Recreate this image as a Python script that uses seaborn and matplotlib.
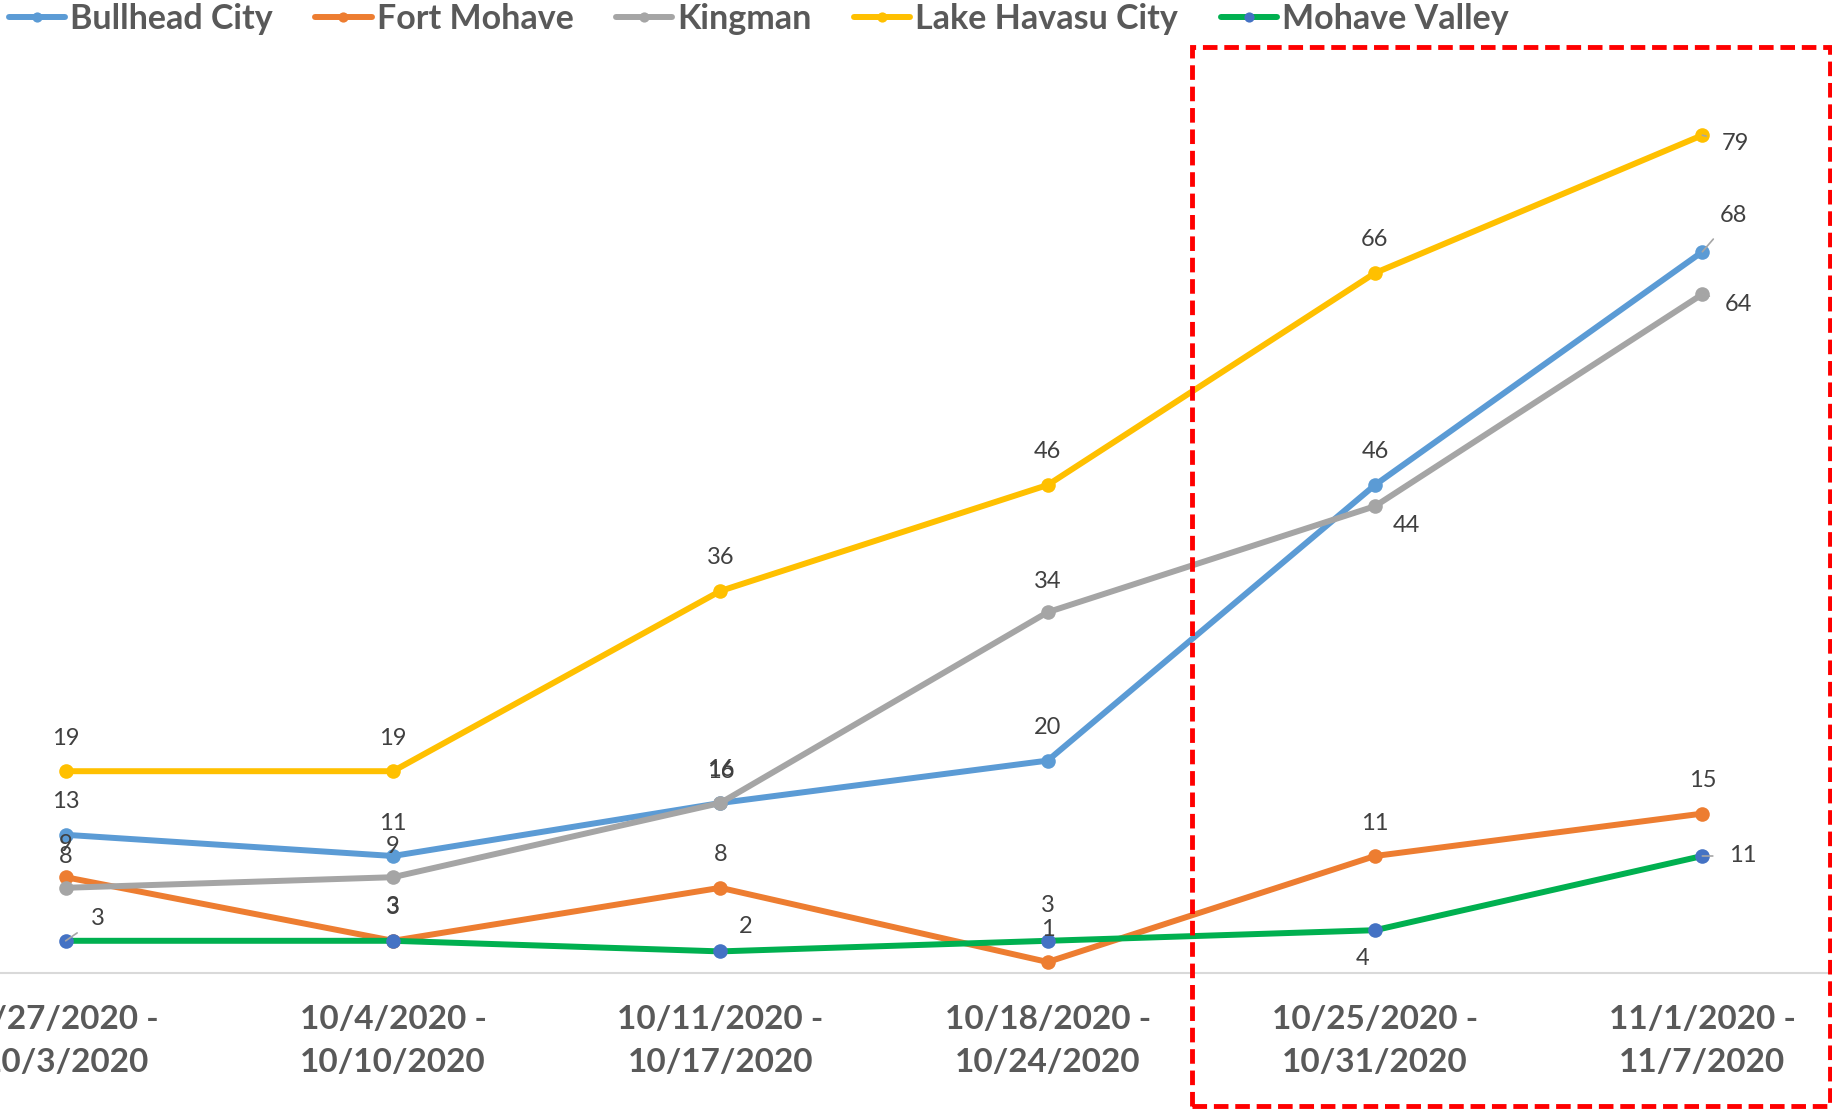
import matplotlib
matplotlib.use('Agg')
import matplotlib.pyplot as plt
import seaborn as sns
import pandas as pd
from matplotlib.patches import Rectangle

sns.set_style('white')
plt.rcParams['font.family'] = ['Lato', 'DejaVu Sans']

# weekly values
weeks = ['9/27/2020 -\n10/3/2020', '10/4/2020 -\n10/10/2020', '10/11/2020 -\n10/17/2020',
         '10/18/2020 -\n10/24/2020', '10/25/2020 -\n10/31/2020', '11/1/2020 -\n11/7/2020']
bullhead_city = [13, 11, 16, 20, 46, 68]
fort_mohave = [9, 3, 8, 1, 11, 15]
kingman = [8, 9, 16, 34, 44, 64]
lake_havasu_city = [19, 19, 36, 46, 66, 79]
mohave_valley = [3, 3, 2, 3, 4, 11]

series = [
    ('Bullhead City', bullhead_city, '#5B9BD5', '#5B9BD5'),
    ('Fort Mohave', fort_mohave, '#ED7D31', '#ED7D31'),
    ('Kingman', kingman, '#A5A5A5', '#A5A5A5'),
    ('Lake Havasu City', lake_havasu_city, '#FFC000', '#FFC000'),
    ('Mohave Valley', mohave_valley, '#00B050', '#4472C4'),
]

# label offsets in pixels (dx, dy), leader line flag
up = (0, 33, False)
label_pos = {
    'Bullhead City': [up, up, up, up, up, (31, 36, True)],
    'Fort Mohave': [up, up, up, up, up, up],
    'Kingman': [(0, 31, False), (0, 31, False), (0, 31, False), (0, 31, False),
                (31, -19, False), (36, -10, True)],
    'Lake Havasu City': [up, up, up, up, up, (33, -8, True)],
    'Mohave Valley': [(32, 22, True), (0, 34, False), (25, 25, False), (0, 35, False),
                      (-12, -28, False), (40, 0, True)],
}

W, H = 1833, 1112
fig = plt.figure(figsize=(W / 100, H / 100), dpi=100)
# plot area runs past the left/right edges like the cropped original
ax = fig.add_axes([-98 / W, 139.4 / H, 1964 / W, 954 / H])

x = list(range(len(weeks)))
for name, vals, color, mcolor in series:
    df = pd.DataFrame({'week': x, 'value': vals})
    sns.lineplot(data=df, x='week', y='value', ax=ax, color=color, linewidth=4.3,
                 marker='o', markersize=10.5, markerfacecolor=mcolor,
                 markeredgewidth=0, label=name)
    for xi, v, (dx, dy, lead) in zip(x, vals, label_pos[name]):
        arrow = dict(arrowstyle='-', color='#A6A6A6', lw=1.2, shrinkA=9, shrinkB=0) if lead else None
        ax.annotate(str(v), xy=(xi, v), xytext=(dx, dy), textcoords='offset pixels',
                    ha='center', va='center', fontsize=17, color='#404040',
                    arrowprops=arrow)

ax.set_xlim(-0.5, 5.5)
ax.set_ylim(0, 90)
ax.set_xticks(x)
ax.set_xticklabels(weeks, fontsize=24, fontweight='bold', color='#595959', linespacing=1.6)
ax.tick_params(axis='x', length=0, pad=23)
ax.set_yticks([])
ax.set_xlabel('')
ax.set_ylabel('')
for s in ['top', 'left', 'right']:
    ax.spines[s].set_visible(False)
ax.spines['bottom'].set_color('#D9D9D9')
ax.spines['bottom'].set_linewidth(1.5)

handles, labels = ax.get_legend_handles_labels()
ax.get_legend().remove()
leg = fig.legend(handles, labels, loc='center left', bbox_to_anchor=(9 / W, 1 - 19 / H),
                 ncol=5, frameon=False, borderpad=0, borderaxespad=0,
                 handlelength=1.65, handletextpad=0.15, columnspacing=1.25, markerscale=0.7,
                 prop={'family': 'Lato', 'weight': 'bold', 'size': 24.5})
for t in leg.get_texts():
    t.set_color('#595959')

# red dashed highlight box around the last two weeks
fig.patches.append(Rectangle((1192 / W, 1 - 1106 / H), 638 / W, 1059 / H,
                             transform=fig.transFigure, fill=False, edgecolor='#FF0000',
                             linewidth=3.5, linestyle=(0, (3, 1.4)), zorder=10))

fig.savefig('out.png', dpi=100)
